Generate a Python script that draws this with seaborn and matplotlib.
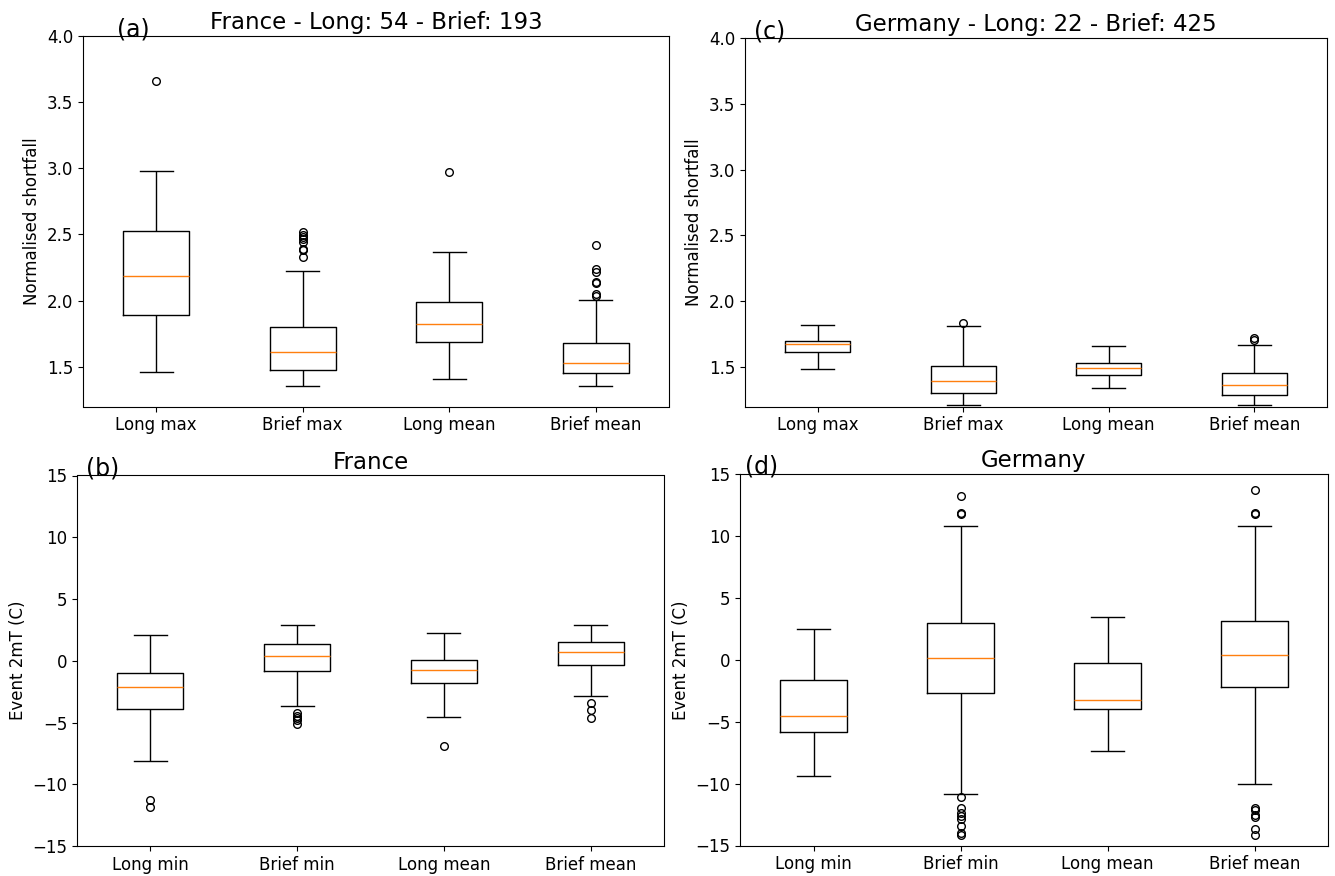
import numpy as np
import pandas as pd
import matplotlib
matplotlib.use("Agg")
import matplotlib.pyplot as plt
import seaborn as sns

plt.rcParams['font.family'] = ['DejaVu Sans']

# ---------------- Panel (a): France shortfall ----------------
a_labels = ["Long max", "Brief max", "Long mean", "Brief mean"]
a_lo = [1.464, 1.355, 1.411, 1.355]
a_q1 = [1.894, 1.474, 1.685, 1.456]
a_med = [2.189, 1.610, 1.826, 1.531]
a_q3 = [2.528, 1.801, 1.990, 1.678]
a_hi = [2.982, 2.224, 2.367, 2.005]
a_out_low = [[], [], [], []]
a_out_high = [[3.661],
              [2.327, 2.382, 2.392, 2.443, 2.463, 2.478, 2.498, 2.518],
              [2.969],
              [2.035, 2.050, 2.131, 2.141, 2.216, 2.236, 2.423]]

# ---------------- Panel (c): Germany shortfall ----------------
c_labels = ["Long max", "Brief max", "Long mean", "Brief mean"]
c_lo = [1.482, 1.210, 1.342, 1.210]
c_q1 = [1.612, 1.302, 1.439, 1.291]
c_med = [1.673, 1.391, 1.495, 1.363]
c_q3 = [1.701, 1.505, 1.528, 1.452]
c_hi = [1.820, 1.808, 1.658, 1.668]
c_out_low = [[], [], [], []]
c_out_high = [[], [1.836], [], [1.703, 1.719]]

# ---------------- Panel (b): France 2mT ----------------
b_labels = ["Long min", "Brief min", "Long mean", "Brief mean"]
b_lo = [-8.08, -3.64, -4.55, -2.84]
b_q1 = [-3.91, -0.85, -1.80, -0.31]
b_med = [-2.16, 0.36, -0.77, 0.71]
b_q3 = [-0.98, 1.39, 0.05, 1.52]
b_hi = [2.06, 2.92, 2.27, 2.92]
b_out_low = [[-11.88, -11.26],
             [-5.10, -4.83, -4.67, -4.51, -4.24],
             [-6.87],
             [-4.67, -4.02, -3.43]]
b_out_high = [[], [], [], []]

# ---------------- Panel (d): Germany 2mT ----------------
d_labels = ["Long min", "Brief min", "Long mean", "Brief mean"]
d_lo = [-9.41, -10.87, -7.34, -10.06]
d_q1 = [-5.85, -2.67, -3.99, -2.24]
d_med = [-4.53, 0.13, -3.26, 0.38]
d_q3 = [-1.65, 2.94, -0.30, 3.10]
d_hi = [2.51, 10.82, 3.48, 10.82]
d_out_low = [[], [-14.19, -14.03, -13.43, -12.84, -12.62, -12.41, -11.98, -11.11],
             [], [-14.19, -13.70, -12.73, -12.52, -12.14, -11.98]]
d_out_high = [[], [11.79, 11.87, 13.25], [], [11.79, 11.87, 13.70]]


def sample_from_stats(lo, q1, med, q3, hi, out_low, out_high):
    """Sorted sample of 4k+1 values whose quartiles, whiskers and
    outliers equal the values read from the picture."""
    k = max(len(out_low), len(out_high)) + 2
    lower = sorted(out_low) + [lo] + [q1] * (k - 1 - len(out_low))
    mid1 = [q1] + [q1] * (k - 1)
    mid2 = [med] + [q3] * (k - 1)
    upper = [q3] + [q3] * (k - 1 - len(out_high)) + [hi] + sorted(out_high)
    return lower + mid1 + mid2 + upper


def make_frame(labels, lo, q1, med, q3, hi, out_low, out_high):
    rows = []
    for i, lab in enumerate(labels):
        for v in sample_from_stats(lo[i], q1[i], med[i], q3[i], hi[i],
                                   out_low[i], out_high[i]):
            rows.append((lab, v))
    return pd.DataFrame(rows, columns=["label", "value"])


W, H = 1335, 876
fig = plt.figure(figsize=(W / 100, H / 100), dpi=100)


def add_ax(left, right, top, bottom):
    return fig.add_axes([left / W, 1 - bottom / H, (right - left) / W, (bottom - top) / H])


panels = [
    dict(box=(83, 669, 36, 406.5), labels=a_labels, stats=(a_lo, a_q1, a_med, a_q3, a_hi, a_out_low, a_out_high),
         ylim=(1.2, 4.0), yticks=[1.5, 2.0, 2.5, 3.0, 3.5, 4.0], ylabel="Normalised shortfall",
         title="France - Long: 54 - Brief: 193", tag="(a)", tagx=34),
    dict(box=(745, 1327, 38, 406.5), labels=c_labels, stats=(c_lo, c_q1, c_med, c_q3, c_hi, c_out_low, c_out_high),
         ylim=(1.2, 4.0), yticks=[1.5, 2.0, 2.5, 3.0, 3.5, 4.0], ylabel="Normalised shortfall",
         title="Germany - Long: 22 - Brief: 425", tag="(c)", tagx=9),
    dict(box=(77, 664, 475.5, 846), labels=b_labels, stats=(b_lo, b_q1, b_med, b_q3, b_hi, b_out_low, b_out_high),
         ylim=(-15, 15), yticks=[-15, -10, -5, 0, 5, 10, 15], ylabel="Event 2mT (C)",
         title="France", tag="(b)", tagx=9),
    dict(box=(740, 1328, 474, 845.5), labels=d_labels, stats=(d_lo, d_q1, d_med, d_q3, d_hi, d_out_low, d_out_high),
         ylim=(-15, 15), yticks=[-15, -10, -5, 0, 5, 10, 15], ylabel="Event 2mT (C)",
         title="Germany", tag="(d)", tagx=5),
]

for p in panels:
    ax = add_ax(*p["box"])
    df = make_frame(p["labels"], *p["stats"])
    sns.boxplot(data=df, x="label", y="value", order=p["labels"], ax=ax,
                width=0.45, fill=False, color="black", linewidth=1, whis=1.5,
                medianprops=dict(color="#ff7f0e", linewidth=1),
                flierprops=dict(marker="o", markersize=5.5, markerfacecolor="none",
                                markeredgecolor="black", markeredgewidth=1))
    ax.set_xlim(-0.5, 3.5)
    ax.set_ylim(*p["ylim"])
    ax.set_yticks(p["yticks"])
    ax.set_xlabel("")
    ax.set_ylabel(p["ylabel"], fontsize=12)
    ax.tick_params(labelsize=12)
    ax.set_title(p["title"], fontsize=16.5, pad=5)
    axw = p["box"][1] - p["box"][0]
    ax.text(p["tagx"] / axw, 1.0, p["tag"], transform=ax.transAxes, fontsize=17,
            va="baseline", ha="left")
    for s in ax.spines.values():
        s.set_visible(True)

fig.savefig("out.png", dpi=100)
